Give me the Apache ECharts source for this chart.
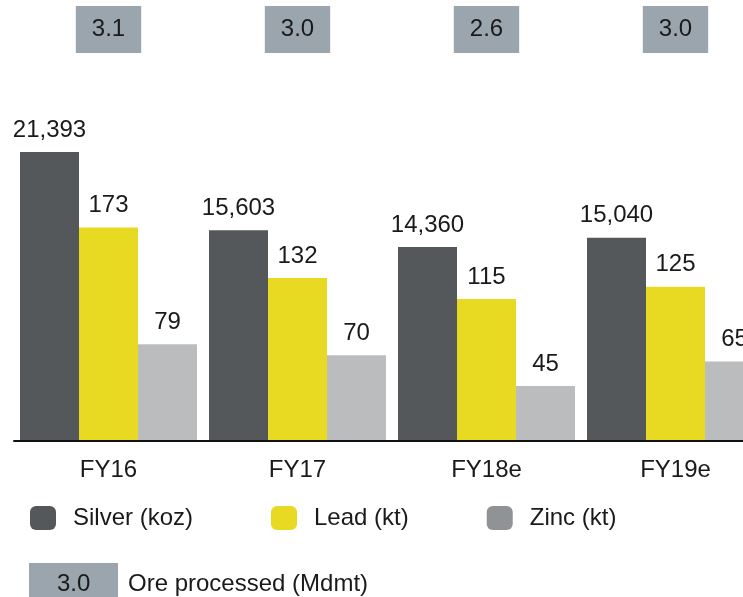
<!DOCTYPE html>
<html>
<head>
<meta charset="utf-8">
<script src="https://cdn.jsdelivr.net/npm/echarts@6/dist/echarts.min.js"></script>
<style>
  html, body { margin: 0; padding: 0; background: #fff; overflow: hidden; }
  #chart { width: 770px; height: 597px; }
</style>
</head>
<body>
<div id="chart"></div>
<script>
// production by financial year
const categories = ["FY16", "FY17", "FY18e", "FY19e"];
const silver = [21393, 15603, 14360, 15040]; // koz
const lead = [173, 132, 115, 125]; // kt
const zinc = [79, 70, 45, 65]; // kt
const oreProcessed = [3.1, 3.0, 2.6, 3.0]; // Mdmt

const FONT = "'Liberation Sans', Arial, sans-serif";
const FS = 24;
const TEXT = "#1a1a1a";

const chart = echarts.init(document.getElementById("chart"));

const labelStyle = (fmt) => ({
  show: true,
  position: "top",
  distance: 10,
  color: TEXT,
  fontSize: FS,
  fontFamily: FONT,
  formatter: fmt,
});

const option = {
  animation: false,
  grid: {
    left: 14,
    right: 0,
    top: 141,
    bottom: 156,
  },
  xAxis: [
    {
      type: "category",
      data: categories,
      z: 5,
      axisLine: { lineStyle: { color: "#111", width: 2 } },
      axisTick: { show: false },
      axisLabel: { color: TEXT, fontSize: FS, fontFamily: FONT, margin: 17 },
    },
    {
      // ore processed boxes above each group
      type: "category",
      data: categories,
      position: "top",
      axisLine: { show: false },
      axisTick: { show: false },
      axisLabel: {
        color: TEXT,
        fontSize: FS,
        fontFamily: FONT,
        margin: 88,
        backgroundColor: "#9aa5ae",
        padding: [11, 16, 11, 16],
        lineHeight: 25,
        formatter: (v, i) => oreProcessed[i].toFixed(1),
      },
    },
  ],
  yAxis: [
    { type: "value", min: 0, max: 22200, show: false, splitLine: { show: false } },
    { type: "value", min: 0, max: 243, show: false, splitLine: { show: false } },
    { type: "value", min: 0, max: 245, show: false, splitLine: { show: false } },
  ],
  legend: {
    left: 30,
    top: 506,
    padding: 0,
    icon: "roundRect",
    itemWidth: 26,
    itemHeight: 24,
    itemGap: 78,
    textStyle: { color: TEXT, fontSize: FS, fontFamily: FONT, padding: [3, 0, 0, 12] },
    data: [
      { name: "Silver (koz)", itemStyle: { color: "#55585b" } },
      { name: "Lead (kt)", itemStyle: { color: "#e8d922" } },
      { name: "Zinc (kt)", itemStyle: { color: "#909395" } },
    ],
  },
  series: [
    {
      name: "Silver (koz)",
      type: "bar",
      yAxisIndex: 0,
      data: silver,
      barWidth: 59,
      barGap: "0%",
      itemStyle: { color: "#55585b" },
      label: labelStyle((p) => p.value.toLocaleString("en-US")),
    },
    {
      name: "Lead (kt)",
      type: "bar",
      yAxisIndex: 1,
      data: lead,
      barWidth: 59,
      barGap: "0%",
      itemStyle: { color: "#e8d922" },
      label: labelStyle("{c}"),
    },
    {
      name: "Zinc (kt)",
      type: "bar",
      yAxisIndex: 2,
      data: zinc,
      barWidth: 59,
      barGap: "0%",
      itemStyle: { color: "#bbbcbe" },
      label: labelStyle("{c}"),
    },
  ],
  graphic: [
    {
      type: "rect",
      left: 29,
      top: 563,
      shape: { width: 89, height: 40 },
      style: { fill: "#9aa5ae" },
    },
    {
      type: "text",
      left: 57,
      top: 572,
      style: { text: "3.0", fill: TEXT, font: FS + "px " + FONT },
    },
    {
      type: "text",
      left: 128,
      top: 572,
      style: { text: "Ore processed (Mdmt)", fill: TEXT, font: FS + "px " + FONT },
    },
  ],
};

chart.setOption(option);
</script>
</body>
</html>
